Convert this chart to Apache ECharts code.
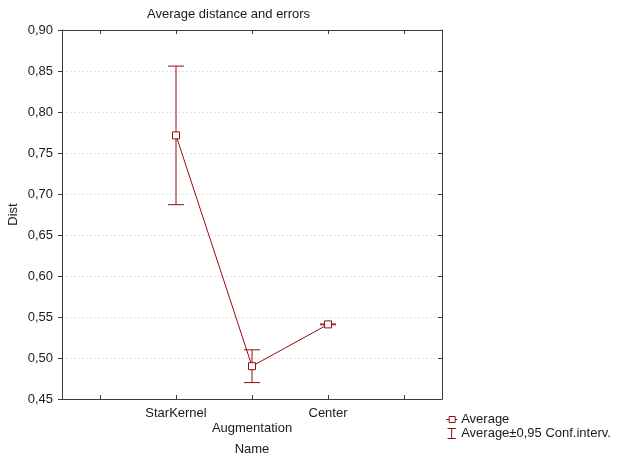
<!DOCTYPE html>
<html><head><meta charset="utf-8">
<script src="https://cdn.jsdelivr.net/npm/echarts@6/dist/echarts.min.js"></script>
<style>html,body{margin:0;padding:0;background:#fff}#c{width:617px;height:457px}</style>
</head><body><div id="c"></div>
<script>
const categories = ['', 'StarKernel', 'Augmentation', 'Center', ''];
const means = [null, 0.7715, 0.490, 0.541, null];
const lowers = [null, 0.687, 0.470, 0.5405, null];
const uppers = [null, 0.856, 0.510, 0.5415, null];
const yTicks = { min: 0.45, max: 0.90, step: 0.05 };
const titleText = 'Average distance and errors';
const meanName = 'Average';
const ciName = 'Average±0,95 Conf.interv.';

const RED = '#8f0f0f';
const AX = '#3a3a3a';
const TXT = '#1a1a1a';
const font = 'Liberation Sans, Arial, sans-serif';

const errData = [];
categories.forEach((c, i) => { if (means[i] != null) errData.push([i, lowers[i], uppers[i]]); });

const chart = echarts.init(document.getElementById('c'));
chart.setOption({
  animation: false,
  textStyle: { fontFamily: font },
  title: { text: titleText, left: 142, top: 3, textStyle: { fontSize: 13, fontWeight: 'normal', color: TXT, fontFamily: font } },
  grid: { left: 62, right: 175, top: 30, bottom: 58, outerBoundsMode: 'none', containLabel: false },
  legend: {
    orient: 'vertical', left: 440, top: 408, itemGap: 0, itemWidth: 11, itemHeight: 10,
    textStyle: { fontSize: 13, color: TXT, fontFamily: font, padding: [0,0,0,-1] },
    data: [
      { name: meanName, icon: 'path://M0,4 L3,4 L3,1 L9,1 L9,4 L11,4 L9,4 L9,7 L3,7 L3,4 Z', itemStyle: { color: '#fff', borderColor: RED, borderWidth: 1 } },
      { name: ciName, icon: 'path://M0,0 L10,0 M5,0 L5,12 M0,12 L10,12', itemStyle: { color: 'none', borderColor: RED, borderWidth: 1 } }
    ]
  },
  xAxis: [{
    type: 'category', data: categories, boundaryGap: true, position: 'bottom',
    name: 'Name', nameLocation: 'middle', nameGap: 44, nameMoveOverlap: false,
    nameTextStyle: { fontSize: 13, color: TXT },
    axisLine: { lineStyle: { color: AX } },
    axisTick: { show: true, inside: true, alignWithLabel: true, interval: 0, length: 4, lineStyle: { color: AX } },
    axisLabel: { interval: 0, fontSize: 13, color: TXT, margin: 7, lineHeight: 15,
      formatter: (v, i) => i === 2 ? '\n' + v : v },
    splitLine: { show: false }
  }, {
    type: 'category', data: categories, boundaryGap: true, position: 'top',
    axisLine: { lineStyle: { color: AX } },
    axisTick: { show: true, inside: true, alignWithLabel: true, interval: 0, length: 4, lineStyle: { color: AX } },
    axisLabel: { show: false, interval: 0 }
  }],
  yAxis: [{
    type: 'value', min: yTicks.min, max: yTicks.max, interval: yTicks.step,
    name: 'Dist', nameLocation: 'middle', nameGap: 42, nameRotate: 90, nameMoveOverlap: false,
    nameTextStyle: { fontSize: 13, color: TXT },
    axisLine: { show: true, lineStyle: { color: AX } },
    axisTick: { show: true, length: 4, lineStyle: { color: AX } },
    axisLabel: { fontSize: 13, color: TXT, margin: 9, formatter: v => v.toFixed(2).replace('.', ',') },
    splitLine: { show: true, lineStyle: { color: '#e0e0e0', type: [2, 2] } }
  }, {
    type: 'value', min: yTicks.min, max: yTicks.max, interval: yTicks.step, position: 'right',
    axisLine: { show: true, lineStyle: { color: AX } },
    axisTick: { show: true, inside: true, length: 4, lineStyle: { color: AX } },
    axisLabel: { show: false }, splitLine: { show: false }
  }],
  series: [{
    name: ciName, type: 'custom', xAxisIndex: 0, yAxisIndex: 0, data: errData,
    itemStyle: { color: RED },
    encode: { x: 0, y: [1, 2] },
    renderItem: (params, api) => {
      const x = api.value(0);
      const lo = api.coord([x, api.value(1)]);
      const hi = api.coord([x, api.value(2)]);
      const hw = 8;
      const st = { stroke: RED, lineWidth: 1, fill: null };
      return { type: 'group', children: [
        { type: 'line', shape: { x1: lo[0], y1: lo[1], x2: hi[0], y2: hi[1] }, style: st },
        { type: 'line', shape: { x1: lo[0]-hw, y1: lo[1], x2: lo[0]+hw, y2: lo[1] }, style: st },
        { type: 'line', shape: { x1: hi[0]-hw, y1: hi[1], x2: hi[0]+hw, y2: hi[1] }, style: st }
      ]};
    },
    z: 2
  }, {
    name: meanName, type: 'line', data: means, connectNulls: true,
    symbol: 'rect', symbolSize: 7,
    lineStyle: { color: RED, width: 1 },
    itemStyle: { color: '#fff', borderColor: RED, borderWidth: 1 },
    z: 3
  }]
});
</script></body></html>
